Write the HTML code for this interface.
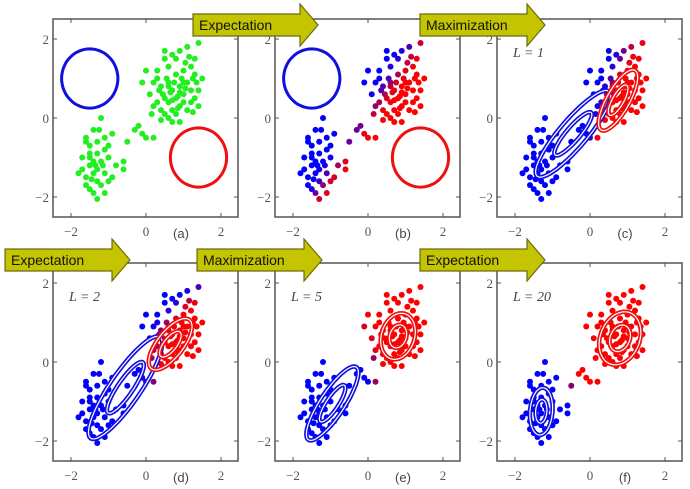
<!DOCTYPE html>
<html><head><meta charset="utf-8"><style>
body{margin:0;background:#fff}
svg{display:block}
</style></head><body>
<svg id="c" width="690" height="489" viewBox="0 0 690 489"></svg>
<script>
const ptsX = [0.2,0.3,0.5,0.6,0.7,0.9,1.1,1.4,0.8,1.0,1.2,1.3,0.4,0.6,0.7,0.9,1.0,1.1,1.2,1.3,0.5,0.6,0.8,0.9,1.0,1.1,1.2,1.4,1.4,0.3,0.4,0.5,0.6,0.7,0.8,0.9,0.7,0.4,0.1,0.2,-0.1,0.0,0.3,0.55,0.75,0.85,0.65,0.95,1.05,1.15,0.5,0.8,1.25,1.35,0.45,0.35,1.05,0.85,1.25,0.15,0.6,0.9,1.0,0.7,1.5,1.3,
 -0.2,-0.1,0.0,0.2,-0.5,-0.3,
 -1.2,-1.4,-1.6,-1.5,-1.3,-1.1,-0.9,-1.7,-1.5,-1.3,-1.1,-1.0,-1.7,-1.5,-1.4,-1.2,-1.0,-0.8,-0.6,-1.6,-1.4,-1.3,-1.1,-0.9,-0.6,-1.8,-1.6,-1.5,-1.3,-1.2,-1.0,-1.4,-1.3,-1.1,-1.5,-1.25,-1.6,-1.35,-1.15,-1.45];
const ptsY = [0.9,1.2,1.5,1.3,1.6,1.7,1.8,1.9,1.1,1.2,1.3,1.1,0.8,0.9,0.7,0.8,0.6,0.9,0.7,0.5,0.5,0.4,0.5,0.3,0.4,0.2,0.4,0.7,0.3,0.4,0.2,0.1,0.0,0.2,0.1,-0.1,-0.1,-0.05,0.6,0.3,0.9,1.2,1.0,1.0,0.9,0.55,0.65,1.0,1.4,1.55,1.7,1.5,1.0,0.9,0.6,0.7,0.75,0.25,0.15,0.1,0.8,0.65,0.9,0.45,1.0,1.5,
 -0.2,-0.4,-0.5,-0.5,-0.6,-0.3,
 0.0,-0.3,-0.5,-0.7,-0.6,-0.5,-0.4,-1.0,-0.9,-0.9,-0.8,-0.7,-1.3,-1.2,-1.1,-1.1,-1.0,-1.2,-1.1,-1.5,-1.4,-1.3,-1.4,-1.5,-1.3,-1.4,-1.7,-1.8,-1.6,-1.7,-1.6,-1.9,-2.05,-1.9,-1.0,-0.3,-0.6,-1.2,-1.2,-1.55];
// model per panel: [meanX, meanY, sdMajor, sdMinor, angleDeg]
const panelLabels = ["(a)","(b)","(c)","(d)","(e)","(f)"];
const iterLabels = [null,null,"L = 1","L = 2","L = 5","L = 20"];
const blueModel = [[-1.5,1,0.75,0.75,0],[-1.5,1,0.75,0.75,0],[-0.45,-0.4,0.72,0.18,48],[-0.55,-0.65,0.79,0.2,54],[-0.95,-1.05,0.56,0.16,55],[-1.3,-1.25,0.3,0.15,85]];
const redModel = [[1.4,-1,0.75,0.75,0],[1.4,-1,0.75,0.75,0],[0.75,0.45,0.44,0.15,59],[0.65,0.45,0.4,0.17,50],[0.8,0.65,0.3,0.22,70],[0.8,0.6,0.35,0.26,65]];
const ticks = [-2,0,2];
const arrowLabels = ["Expectation","Maximization","Expectation","Maximization","Expectation"];

const NS="http://www.w3.org/2000/svg", svg=document.getElementById('c');
function mk(tag,attrs,parent){const e=document.createElementNS(NS,tag);for(const k in attrs)e.setAttribute(k,attrs[k]);(parent||svg).appendChild(e);return e;}
const SX=37.5, SY=39.5;
const origX=[146,368,590], origY=[118,362];
function logDens(x,y,m){const a=m[4]*Math.PI/180,dx=x-m[0],dy=y-m[1];
 const u=dx*Math.cos(a)+dy*Math.sin(a), v=-dx*Math.sin(a)+dy*Math.cos(a);
 const f=(m[2]===m[3]?0.75:1);
 const s1=m[2]*f, s2=m[3]*f;
 return -0.5*(u*u/(s1*s1)+v*v/(s2*s2))-Math.log(s1*s2);}
for(let p=0;p<6;p++){
 const ox=origX[p%3], oy=origY[Math.floor(p/3)];
 const sx=v=>ox+v*SX, sy=v=>oy-v*SY;
 const g=mk('g',{});
 
 
 const box=mk('rect',{x:ox-93,y:oy-99,width:185,height:198,fill:'#fff',stroke:'#555','stroke-width':1.5},g);
 
 ticks.forEach(t=>{
  mk('line',{x1:sx(t),x2:sx(t),y1:oy+99,y2:oy+95,stroke:'#555'},g);
  mk('line',{x1:sx(t),x2:sx(t),y1:oy-99,y2:oy-95,stroke:'#555'},g);
  mk('line',{x1:ox-93,x2:ox-89,y1:sy(t),y2:sy(t),stroke:'#555'},g);
  mk('line',{x1:ox+92,x2:ox+88,y1:sy(t),y2:sy(t),stroke:'#555'},g);
  const tx=mk('text',{x:sx(t),y:oy+118,'text-anchor':'middle','font-size':13,fill:'#555','font-family':'Liberation Serif, serif'},g);
  tx.textContent=t<0?'\u22122':String(t);
  
  const ty=mk('text',{x:ox-97,y:sy(t)+5,'text-anchor':'end','font-size':13,fill:'#555','font-family':'Liberation Serif, serif'},g);
  ty.textContent=t<0?'\u22122':String(t);
  
 });
 const pl=mk('text',{x:ox+35,y:oy+120,'text-anchor':'middle','font-size':13,fill:'#444','font-family':'Liberation Sans, sans-serif'},g);
 pl.textContent=panelLabels[p];
 if(iterLabels[p]){const il=mk('text',{x:ox-77,y:oy-61,'font-size':14,'font-style':'italic',fill:'#444','font-family':'Liberation Serif, serif'},g);
  il.textContent=iterLabels[p];}
 for(let i=0;i<ptsX.length;i++){
  let col='#22ee22';
  if(p>0){const lb=logDens(ptsX[i],ptsY[i],blueModel[p]),lr=logDens(ptsX[i],ptsY[i],redModel[p]);
   const d=Math.max(-30,Math.min(30,lr-lb)); const r=1/(1+Math.exp(-d));
   col='rgb('+Math.round(255*r)+',0,'+Math.round(255*(1-r))+')';}
  const c=mk('circle',{cx:sx(ptsX[i]),cy:sy(ptsY[i]),r:3,fill:col},g);
  
 }
 [[blueModel[p],'#1010e0'],[redModel[p],'#ee1010']].forEach(([m,colr])=>{
  const scales = p<2?[1]:[2,1];
  scales.forEach(k=>{
   let d='';const a=m[4]*Math.PI/180;
   for(let j=0;j<=72;j++){const t=j/72*2*Math.PI;const u=m[2]*k*Math.cos(t),v=m[3]*k*Math.sin(t);
    const X=m[0]+u*Math.cos(a)-v*Math.sin(a),Y=m[1]+u*Math.sin(a)+v*Math.cos(a);
    d+=(j?'L':'M')+sx(X).toFixed(1)+','+sy(Y).toFixed(1);}
   const e=mk('path',{d:d+'Z',fill:'none',stroke:colr,'stroke-width':p<2?3:4.5},g);
   
   if(p>=2){mk('path',{d:d+'Z',fill:'none',stroke:'#fff','stroke-width':1.2},g);}
  });
 });
}
const arrowPos=[[193,25,125],[420,25,125],[5,260,125],[197,260,125],[420,260,125]];
arrowPos.forEach((a,i)=>{
 const [x,y,w]=a, b=x+w-18;
 const poly=mk('polygon',{points:`${x},${y-11} ${b},${y-11} ${b},${y-21} ${x+w},${y} ${b},${y+21} ${b},${y+11} ${x},${y+11}`,fill:'#c4c400',stroke:'#6b6b10','stroke-width':1.2});
 
 const t=mk('text',{x:x+6,y:y+5,'font-size':14,fill:'#111','font-family':'Liberation Sans, sans-serif'});
 t.textContent=arrowLabels[i];
});
</script>
</body></html>
